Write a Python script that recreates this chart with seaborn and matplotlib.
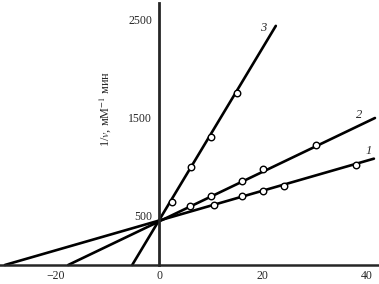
import matplotlib
matplotlib.use("Agg")
import matplotlib.pyplot as plt
import seaborn as sns
import pandas as pd

# ---- data ----
# measured points (1/S, 1/v)
pts1_x = [10.5, 15.9, 20.0, 24.1, 37.9]
pts1_y = [609, 701, 752, 806, 1017]
pts2_x = [6.0, 10.0, 15.9, 20.0, 30.2]
pts2_y = [602, 704, 854, 976, 1221]
pts3_x = [2.45, 6.2, 10.0, 15.0]
pts3_y = [646, 1003, 1309, 1758]

# fitted lines: start (x-intercept) and end points
line1_x = [-29.7, 41.4]
line1_y = [0, 1085]
line2_x = [-17.5, 41.6]
line2_y = [0, 1500]
line3_x = [-5.17, 22.5]
line3_y = [0, 2440]

curve_labels = ["1", "2", "3"]
label_x = [40.3, 38.6, 20.0]
label_y = [1160, 1530, 2420]

xticks = [-20, -10, 10, 20, 30, 40]
xtick_label_pos = [-20, 0, 20, 40]
xtick_label_text = ["−20", "0", "20", "40"]
yticks = [500, 1000, 1500, 2000, 2500]
ytick_labels = ["500", "", "1500", "", "2500"]
ylabel_text = "1/$v$, мМ$^{-1}$ мин"

# ---- plot ----
sns.set_style("white")
plt.rcParams["font.family"] = ["Liberation Serif", "DejaVu Serif"]
plt.rcParams["mathtext.fontset"] = "stix"

fig = plt.figure(figsize=(3.79, 2.84), dpi=100)
ax = fig.add_axes([0, 0, 1, 1])
ax.set_xlim(-30.64, 42.38)
ax.set_ylim(-194, 2704)

lines = pd.concat([
    pd.DataFrame({"x": line1_x, "y": line1_y, "c": "1"}),
    pd.DataFrame({"x": line2_x, "y": line2_y, "c": "2"}),
    pd.DataFrame({"x": line3_x, "y": line3_y, "c": "3"}),
])
sns.lineplot(data=lines, x="x", y="y", units="c", estimator=None, sort=False,
             color="black", lw=1.9, ax=ax, legend=False)

pts = pd.concat([
    pd.DataFrame({"x": pts1_x, "y": pts1_y}),
    pd.DataFrame({"x": pts2_x, "y": pts2_y}),
    pd.DataFrame({"x": pts3_x, "y": pts3_y}),
])
sns.scatterplot(data=pts, x="x", y="y", marker="o", s=22, facecolor="white",
                edgecolor="black", linewidth=1.0, ax=ax, zorder=5, legend=False)

for t, lx, ly in zip(curve_labels, label_x, label_y):
    ax.text(lx, ly, t, fontsize=9, style="italic", ha="center", va="center")

# axes
for s in ["top", "right"]:
    ax.spines[s].set_visible(False)
ax.spines["left"].set_position(("data", 0))
ax.spines["bottom"].set_position(("data", 0))
ax.spines["left"].set_bounds(0, 2675)
ax.spines["left"].set_linewidth(2.0)
ax.spines["bottom"].set_linewidth(1.8)

ax.set_yticks(yticks)
ax.set_yticklabels(ytick_labels)
ax.tick_params(axis="y", which="major", direction="in", length=6, width=1.0,
               labelsize=8.5, pad=5)

ax.set_xticks(xticks)
ax.set_xticklabels([""] * len(xticks))
ax.tick_params(axis="x", direction="in", length=5, width=1.0)
for xv, xt in zip(xtick_label_pos, xtick_label_text):
    ax.text(xv, -115, xt, fontsize=8.5, ha="center", va="center")

ax.set_xlabel("")
ax.set_ylabel("")
ax.text(-10.4, 1590, ylabel_text, rotation=90, fontsize=8.8,
        ha="center", va="center")

fig.savefig("out.png", dpi=100)
